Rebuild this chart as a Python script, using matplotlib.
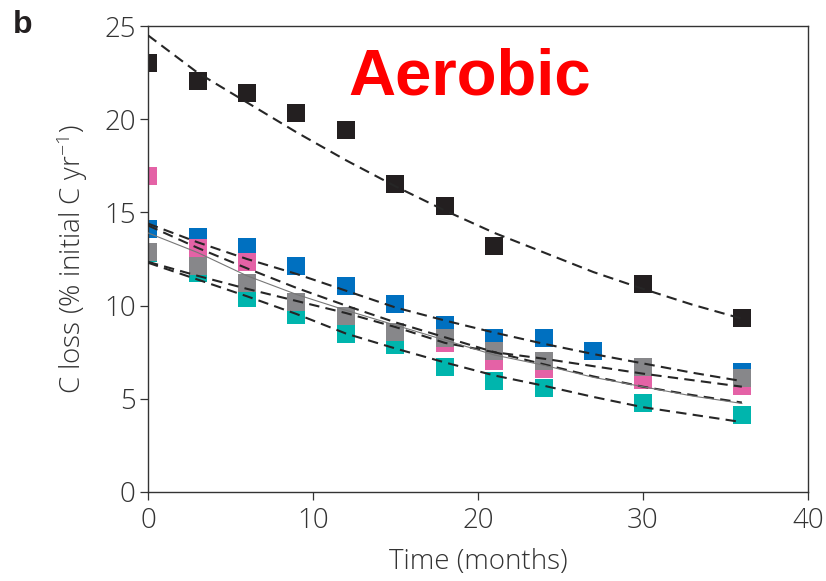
import matplotlib
matplotlib.use("Agg")
import matplotlib.pyplot as plt

plt.rcParams['font.family'] = ['Open Sans', 'DejaVu Sans']
plt.rcParams['font.weight'] = 'light'
plt.rcParams['axes.labelweight'] = 'light'
plt.rcParams['mathtext.default'] = 'regular'

# measured points (months, % initial C per yr)
black_x = [0, 3, 6, 9, 12, 15, 18, 21, 30, 36]
black_y = [23.0, 22.05, 21.4, 20.35, 19.4, 16.5, 15.35, 13.2, 11.15, 9.35]

blue_x = [0, 3, 6, 9, 12, 15, 18, 21, 24, 27, 36]
blue_y = [14.1, 13.7, 13.15, 12.1, 11.05, 10.1, 8.95, 8.25, 8.25, 7.55, 6.45]

pink_x = [0, 3, 6, 9, 12, 15, 18, 21, 24, 30, 36]
pink_y = [16.95, 13.1, 12.35, 10.1, 9.4, 8.5, 8.0, 7.05, 6.6, 6.0, 5.7]

teal_x = [0, 3, 6, 9, 12, 15, 18, 21, 24, 30, 36]
teal_y = [12.8, 11.75, 10.4, 9.5, 8.5, 7.9, 6.7, 5.95, 5.6, 4.75, 4.15]

gray_x = [0, 3, 6, 9, 12, 15, 18, 21, 24, 30, 36]
gray_y = [12.85, 12.1, 11.2, 10.2, 9.45, 8.6, 8.25, 7.55, 7.05, 6.7, 6.1]

# fitted curves
fit_x = [0, 3, 6, 9, 12, 15, 18, 21, 24, 27, 30, 33, 36]
black_fit = [24.5, 22.5, 20.9, 19.3, 17.8, 16.4, 15.1, 13.9, 12.85, 11.8, 10.9, 10.05, 9.3]
blue_fit = [14.4, 13.4, 12.5, 11.7, 10.8, 9.9, 9.2, 8.55, 7.95, 7.4, 6.9, 6.4, 5.95]
gray_fit = [12.35, 11.6, 10.9, 10.25, 9.6, 8.85, 8.0, 7.5, 7.15, 6.75, 6.35, 6.0, 5.65]
pink_fit = [14.3, 13.1, 12.0, 10.95, 10.0, 9.1, 8.3, 7.5, 6.85, 6.2, 5.65, 5.2, 4.8]
teal_fit = [12.3, 11.4, 10.5, 9.55, 8.5, 7.7, 6.95, 6.25, 5.7, 5.1, 4.55, 4.15, 3.75]
mean_fit = [13.9, 12.85, 11.6, 10.6, 9.75, 8.95, 8.15, 7.35, 6.8, 6.15, 5.65, 5.15, 4.75]

fig = plt.figure(figsize=(8.26, 5.81), dpi=100)
ax = fig.add_axes([0.1792, 0.1532, 0.7988, 0.802])

ms = 13.2
ax.plot(black_x, black_y, 's', color='#231f20', ms=ms, mew=0, zorder=2)
ax.plot(blue_x, blue_y, 's', color='#0070c0', ms=ms, mew=0, zorder=2)
ax.plot(pink_x, pink_y, 's', color='#e462a6', ms=ms, mew=0, zorder=2)
ax.plot(teal_x, teal_y, 's', color='#00b5ad', ms=ms, mew=0, zorder=2)
ax.plot(gray_x, gray_y, 's', color='#87878a', ms=ms, mew=0, zorder=2)

dash = (5, 3)
for f in [black_fit, blue_fit, gray_fit, pink_fit, teal_fit]:
    ax.plot(fit_x, f, color='#262626', lw=1.5, dashes=dash, zorder=3)
ax.plot(fit_x, mean_fit, color='#777777', lw=0.8, zorder=3)

ax.set_xlim(0, 40)
ax.set_ylim(0, 25)
ax.set_xticks([0, 10, 20, 30, 40])
ax.set_yticks([0, 5, 10, 15, 20, 25])
ax.tick_params(direction='out', length=6, width=0.9, labelsize=20, colors='#333333', pad=3)
ax.tick_params(axis='x', pad=5)
for s in ax.spines.values():
    s.set_color('#333333')
    s.set_linewidth(1.0)

ax.set_xlabel('Time (months)', fontsize=20, color='#333333', labelpad=9)
ax.set_ylabel('C loss (% initial C yr$^{-1}$)', fontsize=20, color='#333333', labelpad=10)

ax.text(0.488, 0.854, 'Aerobic', transform=ax.transAxes, ha='center', va='baseline',
        fontsize=47, fontweight='bold', color='#ff0000', family=['Liberation Sans', 'DejaVu Sans'])
fig.text(0.0157, 0.943, 'b', fontsize=23, fontweight='bold', color='#231f20',
         family=['Liberation Sans', 'DejaVu Sans'])

fig.savefig('out.png', dpi=100)
